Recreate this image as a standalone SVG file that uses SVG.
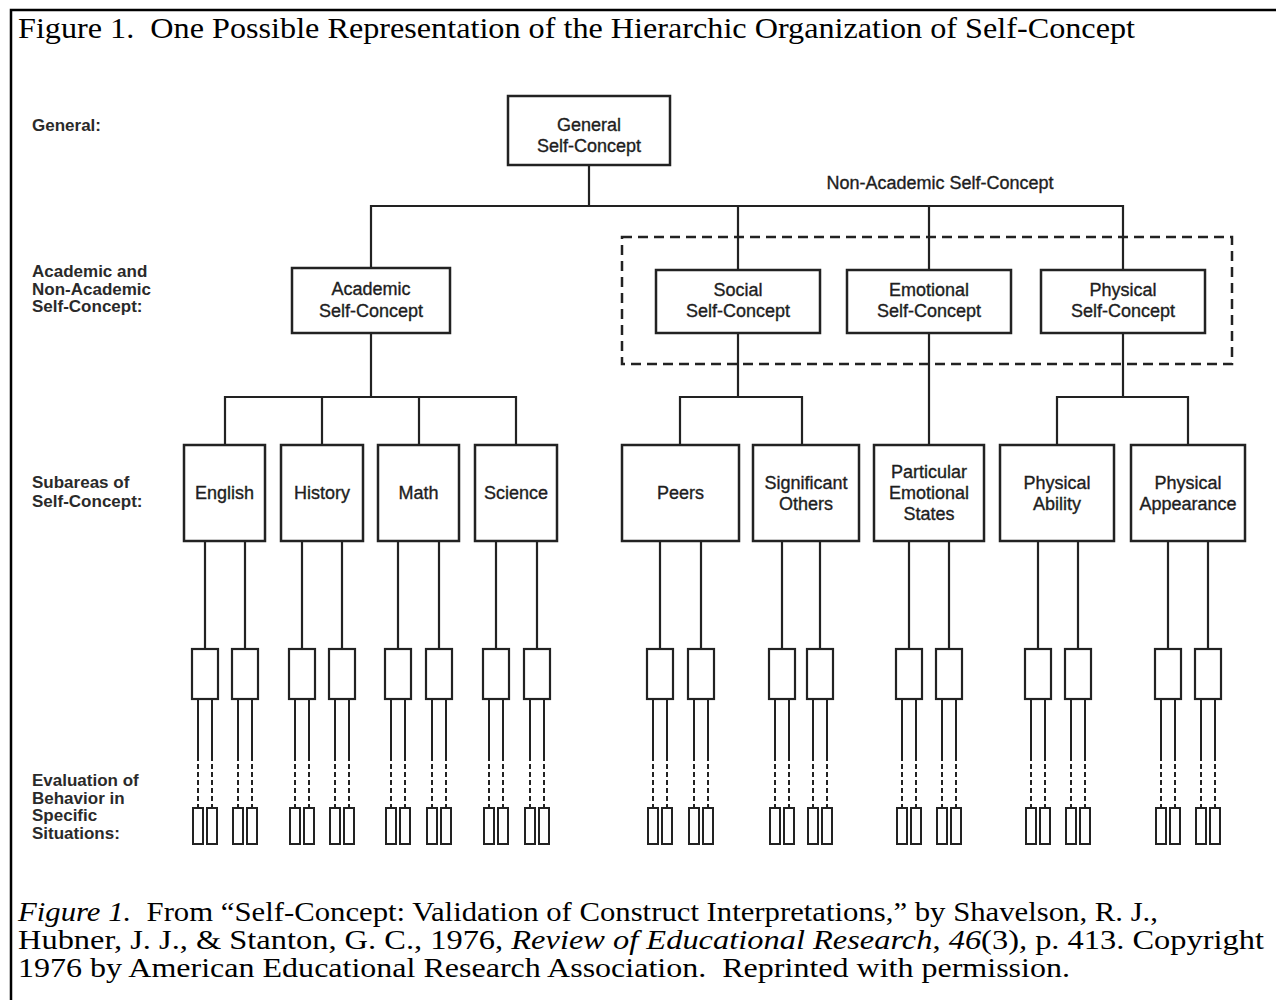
<svg xmlns="http://www.w3.org/2000/svg" width="1276" height="1000" viewBox="0 0 1276 1000">
<style>
.bg{fill:#fff}
.frame{fill:none;stroke:#000;stroke-width:2.5}
.box{fill:#fff;stroke:#222;stroke-width:2.5}
.sm{fill:#fff;stroke:#222;stroke-width:2.2}
.tiny{fill:#fff;stroke:#222;stroke-width:2}
.ln{fill:none;stroke:#222;stroke-width:2.2;stroke-linecap:square}
.thin{fill:none;stroke:#222;stroke-width:2}
.dash{fill:none;stroke:#222;stroke-width:2;stroke-dasharray:5 3}
.grp{fill:none;stroke:#222;stroke-width:2.5;stroke-dasharray:10 6}
.t{font-family:"Liberation Sans",Arial,Helvetica,sans-serif;font-size:18px;fill:#1e1e1e;stroke:#1e1e1e;stroke-width:0.35;text-anchor:middle}
.lab{font-family:"Liberation Sans",Arial,Helvetica,sans-serif;font-size:17px;font-weight:bold;fill:#2a2a2a}
.serif{font-family:"Liberation Serif","Times New Roman",serif;fill:#000}
</style>
<rect class="bg" x="0" y="0" width="1276" height="1000"/>
<path class="frame" d="M11 1000V10H1276"/>
<text class="serif" x="18" y="38" font-size="30" textLength="1117" lengthAdjust="spacingAndGlyphs" xml:space="preserve">Figure 1.  One Possible Representation of the Hierarchic Organization of Self-Concept</text>

<g id="level-labels">
<text class="lab" x="32" y="131">General:</text>
<text class="lab" x="32" y="277">Academic and</text>
<text class="lab" x="32" y="295">Non-Academic</text>
<text class="lab" x="32" y="312">Self-Concept:</text>
<text class="lab" x="32" y="488">Subareas of</text>
<text class="lab" x="32" y="507">Self-Concept:</text>
<text class="lab" x="32" y="786">Evaluation of</text>
<text class="lab" x="32" y="804">Behavior in</text>
<text class="lab" x="32" y="821">Specific</text>
<text class="lab" x="32" y="839">Situations:</text>
</g>

<g id="connectors">
<path class="ln" d="M589 165V206M371 206H1123M371 206V268M738 206V270M929 206V270M1123 206V270M371 333V397M225 397H516M225 397V445M322 397V445M419 397V445M516 397V445M738 333V397M680 397H802M680 397V445M802 397V445M929 333V445M1123 333V397M1057 397H1188M1057 397V445M1188 397V445"/>
<path class="ln" d="M205 541V649M245 541V649M302 541V649M342 541V649M398 541V649M439 541V649M496 541V649M537 541V649M660 541V649M701 541V649M782 541V649M820 541V649M909 541V649M949 541V649M1038 541V649M1078 541V649M1168 541V649M1208 541V649"/>
<path class="thin" d="M198 699V756M212 699V756M238 699V756M252 699V756M295 699V756M309 699V756M335 699V756M349 699V756M391 699V756M405 699V756M432 699V756M446 699V756M489 699V756M503 699V756M530 699V756M544 699V756M653 699V756M667 699V756M694 699V756M708 699V756M775 699V756M789 699V756M813 699V756M827 699V756M902 699V756M916 699V756M942 699V756M956 699V756M1031 699V756M1045 699V756M1071 699V756M1085 699V756M1161 699V756M1175 699V756M1201 699V756M1215 699V756"/>
<path class="dash" d="M198 756V808M212 756V808M238 756V808M252 756V808M295 756V808M309 756V808M335 756V808M349 756V808M391 756V808M405 756V808M432 756V808M446 756V808M489 756V808M503 756V808M530 756V808M544 756V808M653 756V808M667 756V808M694 756V808M708 756V808M775 756V808M789 756V808M813 756V808M827 756V808M902 756V808M916 756V808M942 756V808M956 756V808M1031 756V808M1045 756V808M1071 756V808M1085 756V808M1161 756V808M1175 756V808M1201 756V808M1215 756V808"/>
</g>

<g id="non-academic-group">
<rect class="grp" x="622" y="237" width="610" height="127"/>
<text class="t" x="940" y="189">Non-Academic Self-Concept</text>
</g>

<g id="general-self-concept">
<rect class="box" x="508" y="96" width="162" height="69"/>
<text class="t" x="589" y="131">General</text>
<text class="t" x="589" y="152">Self-Concept</text>
</g>

<g id="academic-self-concept">
<rect class="box" x="292" y="268" width="158" height="65"/>
<text class="t" x="371" y="295">Academic</text>
<text class="t" x="371" y="317">Self-Concept</text>
</g>
<g id="social-self-concept">
<rect class="box" x="656" y="270" width="164" height="63"/>
<text class="t" x="738" y="296">Social</text>
<text class="t" x="738" y="317">Self-Concept</text>
</g>
<g id="emotional-self-concept">
<rect class="box" x="847" y="270" width="164" height="63"/>
<text class="t" x="929" y="296">Emotional</text>
<text class="t" x="929" y="317">Self-Concept</text>
</g>
<g id="physical-self-concept">
<rect class="box" x="1041" y="270" width="164" height="63"/>
<text class="t" x="1123" y="296">Physical</text>
<text class="t" x="1123" y="317">Self-Concept</text>
</g>

<g id="english"><rect class="box" x="184" y="445" width="81" height="96"/><text class="t" x="224.5" y="499">English</text></g>
<g id="history"><rect class="box" x="281" y="445" width="82" height="96"/><text class="t" x="322" y="499">History</text></g>
<g id="math"><rect class="box" x="378" y="445" width="81" height="96"/><text class="t" x="418.5" y="499">Math</text></g>
<g id="science"><rect class="box" x="475" y="445" width="82" height="96"/><text class="t" x="516" y="499">Science</text></g>
<g id="peers"><rect class="box" x="622" y="445" width="117" height="96"/><text class="t" x="680.5" y="499">Peers</text></g>
<g id="significant-others"><rect class="box" x="753" y="445" width="106" height="96"/><text class="t" x="806" y="489">Significant</text><text class="t" x="806" y="510">Others</text></g>
<g id="particular-emotional-states"><rect class="box" x="874" y="445" width="110" height="96"/><text class="t" x="929" y="478">Particular</text><text class="t" x="929" y="499">Emotional</text><text class="t" x="929" y="520">States</text></g>
<g id="physical-ability"><rect class="box" x="1000" y="445" width="114" height="96"/><text class="t" x="1057" y="489">Physical</text><text class="t" x="1057" y="510">Ability</text></g>
<g id="physical-appearance"><rect class="box" x="1131" y="445" width="114" height="96"/><text class="t" x="1188" y="489">Physical</text><text class="t" x="1188" y="510">Appearance</text></g>

<g id="english-a"><rect class="sm" x="192" y="649" width="26" height="50"/></g>
<g id="english-b"><rect class="sm" x="232" y="649" width="26" height="50"/></g>
<g id="history-a"><rect class="sm" x="289" y="649" width="26" height="50"/></g>
<g id="history-b"><rect class="sm" x="329" y="649" width="26" height="50"/></g>
<g id="math-a"><rect class="sm" x="385" y="649" width="26" height="50"/></g>
<g id="math-b"><rect class="sm" x="426" y="649" width="26" height="50"/></g>
<g id="science-a"><rect class="sm" x="483" y="649" width="26" height="50"/></g>
<g id="science-b"><rect class="sm" x="524" y="649" width="26" height="50"/></g>
<g id="peers-a"><rect class="sm" x="647" y="649" width="26" height="50"/></g>
<g id="peers-b"><rect class="sm" x="688" y="649" width="26" height="50"/></g>
<g id="significant-a"><rect class="sm" x="769" y="649" width="26" height="50"/></g>
<g id="significant-b"><rect class="sm" x="807" y="649" width="26" height="50"/></g>
<g id="particular-a"><rect class="sm" x="896" y="649" width="26" height="50"/></g>
<g id="particular-b"><rect class="sm" x="936" y="649" width="26" height="50"/></g>
<g id="ability-a"><rect class="sm" x="1025" y="649" width="26" height="50"/></g>
<g id="ability-b"><rect class="sm" x="1065" y="649" width="26" height="50"/></g>
<g id="appearance-a"><rect class="sm" x="1155" y="649" width="26" height="50"/></g>
<g id="appearance-b"><rect class="sm" x="1195" y="649" width="26" height="50"/></g>

<g id="english-a-situations"><rect class="tiny" x="193" y="808" width="10" height="36"/><rect class="tiny" x="207" y="808" width="10" height="36"/></g>
<g id="english-b-situations"><rect class="tiny" x="233" y="808" width="10" height="36"/><rect class="tiny" x="247" y="808" width="10" height="36"/></g>
<g id="history-a-situations"><rect class="tiny" x="290" y="808" width="10" height="36"/><rect class="tiny" x="304" y="808" width="10" height="36"/></g>
<g id="history-b-situations"><rect class="tiny" x="330" y="808" width="10" height="36"/><rect class="tiny" x="344" y="808" width="10" height="36"/></g>
<g id="math-a-situations"><rect class="tiny" x="386" y="808" width="10" height="36"/><rect class="tiny" x="400" y="808" width="10" height="36"/></g>
<g id="math-b-situations"><rect class="tiny" x="427" y="808" width="10" height="36"/><rect class="tiny" x="441" y="808" width="10" height="36"/></g>
<g id="science-a-situations"><rect class="tiny" x="484" y="808" width="10" height="36"/><rect class="tiny" x="498" y="808" width="10" height="36"/></g>
<g id="science-b-situations"><rect class="tiny" x="525" y="808" width="10" height="36"/><rect class="tiny" x="539" y="808" width="10" height="36"/></g>
<g id="peers-a-situations"><rect class="tiny" x="648" y="808" width="10" height="36"/><rect class="tiny" x="662" y="808" width="10" height="36"/></g>
<g id="peers-b-situations"><rect class="tiny" x="689" y="808" width="10" height="36"/><rect class="tiny" x="703" y="808" width="10" height="36"/></g>
<g id="significant-a-situations"><rect class="tiny" x="770" y="808" width="10" height="36"/><rect class="tiny" x="784" y="808" width="10" height="36"/></g>
<g id="significant-b-situations"><rect class="tiny" x="808" y="808" width="10" height="36"/><rect class="tiny" x="822" y="808" width="10" height="36"/></g>
<g id="particular-a-situations"><rect class="tiny" x="897" y="808" width="10" height="36"/><rect class="tiny" x="911" y="808" width="10" height="36"/></g>
<g id="particular-b-situations"><rect class="tiny" x="937" y="808" width="10" height="36"/><rect class="tiny" x="951" y="808" width="10" height="36"/></g>
<g id="ability-a-situations"><rect class="tiny" x="1026" y="808" width="10" height="36"/><rect class="tiny" x="1040" y="808" width="10" height="36"/></g>
<g id="ability-b-situations"><rect class="tiny" x="1066" y="808" width="10" height="36"/><rect class="tiny" x="1080" y="808" width="10" height="36"/></g>
<g id="appearance-a-situations"><rect class="tiny" x="1156" y="808" width="10" height="36"/><rect class="tiny" x="1170" y="808" width="10" height="36"/></g>
<g id="appearance-b-situations"><rect class="tiny" x="1196" y="808" width="10" height="36"/><rect class="tiny" x="1210" y="808" width="10" height="36"/></g>

<g id="caption" class="serif" font-size="27">
<text x="18" y="921" textLength="1140" lengthAdjust="spacingAndGlyphs" xml:space="preserve"><tspan font-style="italic">Figure 1.</tspan>  From “Self-Concept: Validation of Construct Interpretations,” by Shavelson, R. J.,</text>
<text x="18" y="949" textLength="1246" lengthAdjust="spacingAndGlyphs" xml:space="preserve">Hubner, J. J., &amp; Stanton, G. C., 1976, <tspan font-style="italic">Review of Educational Research</tspan>, <tspan font-style="italic">46</tspan>(3)<tspan font-style="italic">,</tspan> p. 413. Copyright</text>
<text x="18" y="977" textLength="1052" lengthAdjust="spacingAndGlyphs" xml:space="preserve">1976 by American Educational Research Association.  Reprinted with permission.</text>
</g>
</svg>
